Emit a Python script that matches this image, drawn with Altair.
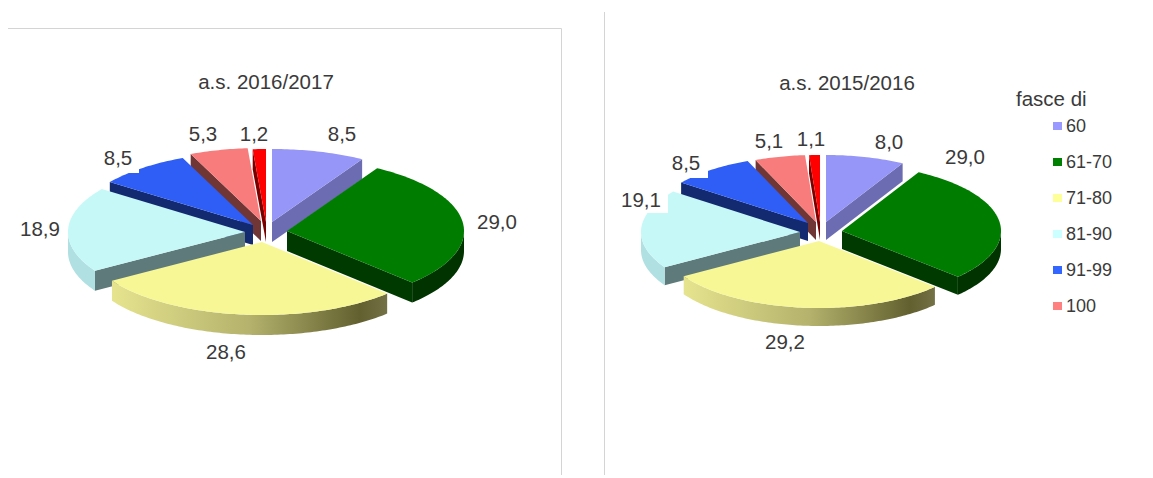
import math
import altair as alt
import pandas as pd

# ---------- data ----------
categories = ["60", "61-70", "71-80", "81-90", "91-99", "100", "altro"]
values_2016 = [8.5, 29.0, 28.6, 18.9, 8.5, 5.3, 1.2]
values_2015 = [8.0, 29.0, 29.2, 19.1, 8.5, 5.1, 1.1]
label_2016 = ["8,5", "29,0", "28,6", "18,9", "8,5", "5,3", "1,2"]
label_2015 = ["8,0", "29,0", "29,2", "19,1", "8,5", "5,1", "1,1"]
title_2016 = "a.s. 2016/2017"
title_2015 = "a.s. 2015/2016"
legend_title = "fasce di"
legend_items = categories[:6]

# ---------- styles ----------
top_col = ["#9696F8", "#007C00", "#F7F796", "#C6F8F8", "#2E5EF5", "#F87C7C", "#FF0000"]
wall_col = ["#6C6CB2", "#003A00", "#77774A", "#5F7A7A", "#142A70", "#703636", "#7A0000"]
rim_col = ["#6C6CB2", "#003300", None, "#B0E0E2", "#142A70", "#703636", "#7A0000"]
legend_col = ["#9999FF", "#008000", "#FFFF99", "#CCFFFF", "#3366FF", "#FF8080"]
yellow_rim = {
    "gradient": "linear", "x1": 0, "x2": 1, "y1": 0, "y2": 0,
    "stops": [
        {"offset": 0, "color": "#E6E48E"},
        {"offset": 0.5, "color": "#B4B26C"},
        {"offset": 0.9, "color": "#62602F"},
        {"offset": 1, "color": "#737146"},
    ],
}
TEXT = "#3A3A3A"
LINE = "#D4D4D4"
DRAW_ORDER = [6, 5, 4, 0, 3, 2, 1]

# ---------- layout (page pixels) ----------
OX, OY = 8, 8
W, H = 1137, 467
pie_a = dict(rx=177, ry=73, depth=20,
             apex=[(272, 222), (287, 231), (262, 242), (245, 232), (253, 225), (261, 221), (266, 222)])
pie_b = dict(rx=159, ry=67, depth=18,
             apex=[(826, 222), (842, 231), (819, 241), (800, 232), (808, 223), (816, 222), (820, 222)])
label_pos_a = [(342, 135), (497, 223), (226, 353), (40, 230), (118, 159), (203, 135), (254, 135)]
label_pos_b = [(889, 143), (965, 158), (785, 343), (641, 201), (686, 164), (769, 142), (811, 140)]
title_pos = [(266, 83), (847, 84)]
boxes = [(95, 143, 139, 173), (663, 148, 708, 178), (612, 186, 668, 213)]

proj = alt.Projection(type="identity", scale=1, translate=[0, 0])


def polygon(pts):
    ring = [[x - OX, y - OY] for x, y in pts]
    ring.append(ring[0])
    return {"type": "Feature", "properties": {},
            "geometry": {"type": "Polygon", "coordinates": [ring]}}


def polyline(pts):
    return {"type": "Feature", "properties": {},
            "geometry": {"type": "LineString",
                         "coordinates": [[x - OX, y - OY] for x, y in pts]}}


def shape(feature, fill):
    return alt.Chart(alt.Data(values=[feature])).mark_geoshape(
        fill=fill, strokeWidth=0).project(**proj.to_dict())


def edge_point(apex, rx, ry, deg):
    a = math.radians(deg)
    return apex[0] + rx * math.sin(a), apex[1] - ry * math.cos(a)


def arc(apex, rx, ry, a0, a1):
    n = max(2, int(abs(a1 - a0)) + 1)
    return [edge_point(apex, rx, ry, a0 + (a1 - a0) * i / n) for i in range(n + 1)]


def pie_layers(values, pie):
    rx, ry, d = pie["rx"], pie["ry"], pie["depth"]
    total = sum(values)
    spans, cur = [], 0.0
    for v in values:
        spans.append((cur, cur + v / total * 360))
        cur += v / total * 360
    out = []
    for i in DRAW_ORDER:
        a0, a1 = spans[i]
        ap = pie["apex"][i]
        low = (ap[0], ap[1] + d)
        # cut faces that look towards the viewer
        for ang, vis in ((a0, math.sin(math.radians(a0)) < -1e-6),
                         (a1, math.sin(math.radians(a1)) > 1e-6)):
            if vis:
                e = edge_point(ap, rx, ry, ang)
                out.append(shape(polygon([ap, e, (e[0], e[1] + d), low]), wall_col[i]))
        # outer rim, lower half of the ellipse only
        r0, r1 = max(a0, 90), min(a1, 270)
        if r1 > r0:
            upper = arc(ap, rx, ry, r0, r1)
            lower = [(x, y + d) for x, y in reversed(upper)]
            out.append(shape(polygon(upper + lower),
                             rim_col[i] if rim_col[i] else yellow_rim))
        # top face
        out.append(shape(polygon([ap] + arc(ap, rx, ry, a0, a1)), top_col[i]))
    return out


def text_layer(rows, size, align="center"):
    df = pd.DataFrame(rows, columns=["t", "x", "y"])
    df["x"] -= OX
    df["y"] -= OY
    return alt.Chart(df).mark_text(
        font="Liberation Sans", fontSize=size, color=TEXT, align=align, baseline="middle"
    ).encode(longitude="x:Q", latitude="y:Q", text="t:N").project(**proj.to_dict())


layers = []
# frame lines
for seg in ([(8, 28.5), (561.5, 28.5), (561.5, 478)], [(604.5, 12), (604.5, 478)]):
    layers.append(alt.Chart(alt.Data(values=[polyline(seg)])).mark_geoshape(
        filled=False, stroke=LINE, strokeWidth=1).project(**proj.to_dict()))

layers += pie_layers(values_2016, pie_a)
layers += pie_layers(values_2015, pie_b)

# white backgrounds of the data labels
for x0, y0, x1, y1 in boxes:
    layers.append(shape(polygon([(x0, y0), (x1, y0), (x1, y1), (x0, y1)]), "#FFFFFF"))

data_rows = [(t, x, y) for t, (x, y) in zip(label_2016, label_pos_a)] + \
            [(t, x, y) for t, (x, y) in zip(label_2015, label_pos_b)]
data_rows += [(title_2016, *title_pos[0]), (title_2015, *title_pos[1])]
layers.append(text_layer(data_rows, 20.5))
layers.append(text_layer([(legend_title, 1016, 100)], 20.5, "left"))

# legend
for k, (name, col) in enumerate(zip(legend_items, legend_col)):
    yc = 126 + 36 * k
    layers.append(shape(polygon([(1053, yc - 4), (1062, yc - 4), (1062, yc + 4), (1053, yc + 4)]), col))
layers.append(text_layer([(n, 1066, 127 + 36 * k) for k, n in enumerate(legend_items)], 18, "left"))

chart = alt.layer(*layers).properties(
    width=W, height=H, padding=0, autosize=alt.AutoSizeParams(type="none")
).configure_view(stroke=None)

chart.save("out.html", embed_options={"renderer": "svg", "actions": False})
